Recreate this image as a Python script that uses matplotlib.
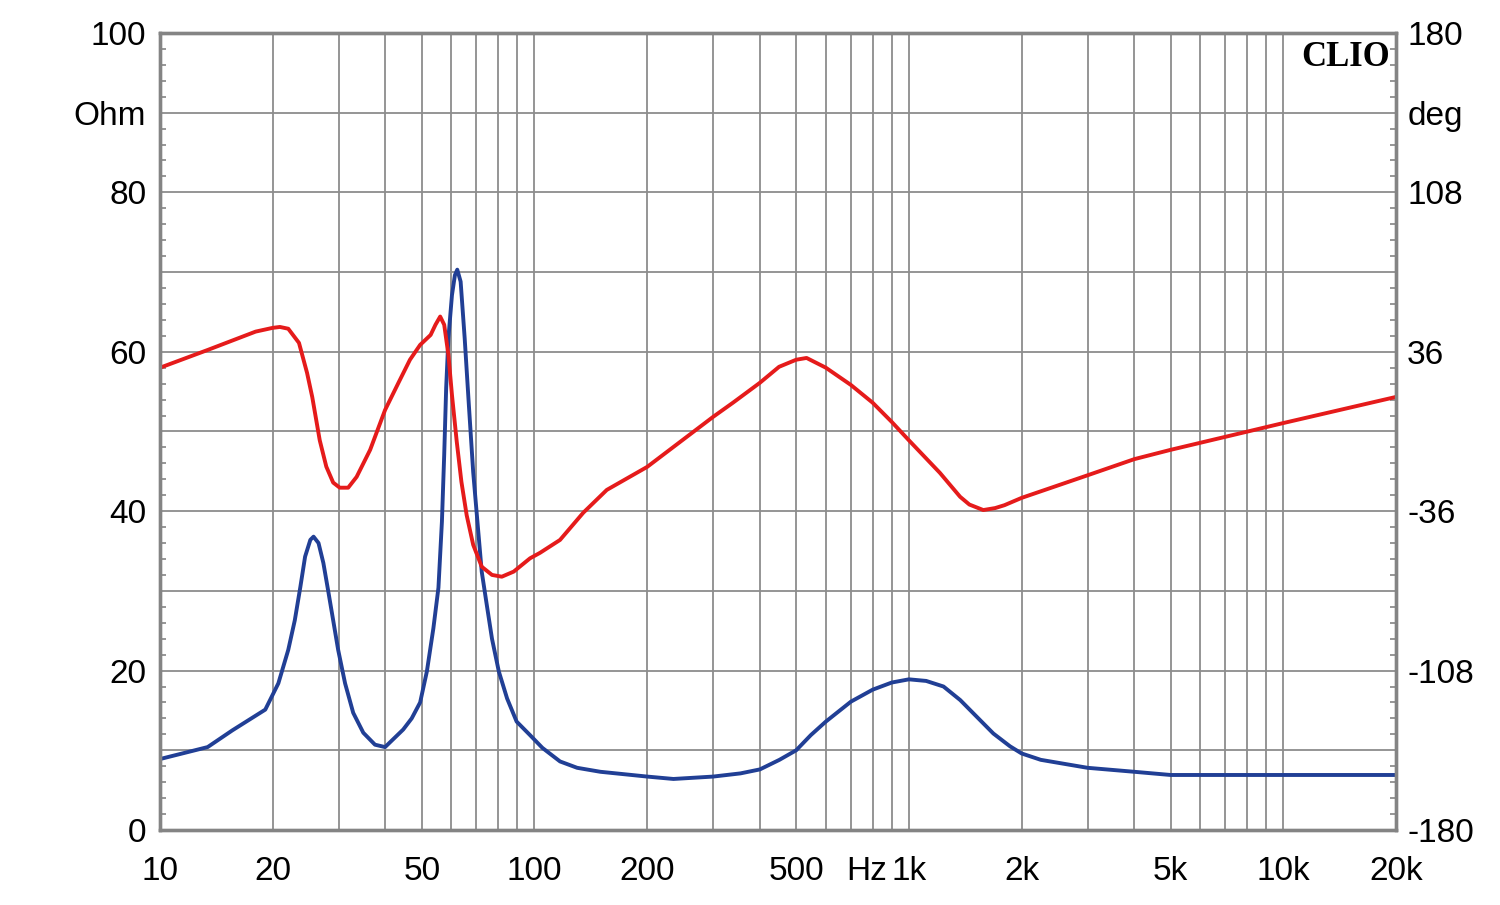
import numpy as np
import matplotlib
matplotlib.use('Agg')
import matplotlib.pyplot as plt
from matplotlib.transforms import blended_transform_factory

plt.rcParams['font.family'] = ['Liberation Sans', 'DejaVu Sans']

# impedance magnitude (Ohm) vs frequency (Hz)
imp_freq = [10, 13.4, 15.6, 19.1, 20.7, 22.0, 22.9, 23.7, 24.4, 25.2, 25.7, 26.5,
            27.3, 28.1, 29.0, 29.9, 31.2, 32.8, 34.9, 37.5, 39.9, 44.6, 47, 49.5,
            51.6, 53.7, 55.4, 56.6, 57.4, 58.1, 58.9, 60.2, 61.3, 62.2, 63.5, 65.1,
            66.8, 68.6, 70.4, 72.3, 74.6, 77.0, 80.3, 84.5, 89.6, 97.3, 105, 117,
            130, 150, 200, 235, 300, 355, 400, 451, 500, 547, 600, 700, 800, 900,
            1000, 1112, 1237, 1371, 1518, 1681, 1862, 2000, 2250, 3000, 4000,
            5000, 10000, 20000]
imp_ohm = [8.9, 10.4, 12.5, 15.1, 18.4, 22.6, 26.3, 30.5, 34.3, 36.4, 36.8, 36.0,
           33.5, 30.1, 26.3, 22.6, 18.4, 14.7, 12.2, 10.7, 10.4, 12.6, 14.0, 16.0,
           19.9, 25.3, 30.4, 38.7, 47.1, 55.5, 61.7, 67.1, 69.6, 70.3, 68.8, 61.7,
           53.3, 44.9, 38.7, 32.4, 28.2, 24.0, 19.9, 16.5, 13.6, 11.9, 10.3, 8.6,
           7.8, 7.3, 6.7, 6.4, 6.7, 7.1, 7.6, 8.8, 10.0, 11.9, 13.6, 16.1, 17.6, 18.5,
           18.9, 18.7, 18.0, 16.3, 14.2, 12.1, 10.5, 9.6, 8.8, 7.8, 7.3,
           6.9, 6.9, 6.9]

# impedance phase (deg) vs frequency (Hz)
ph_freq = [10, 13.4, 18.0, 20, 20.9, 22.0, 23.5, 24.7, 25.5, 26.7, 27.8, 29.0,
           30.2, 31.8, 33.5, 36.4, 39.9, 43.3, 46.5, 49.5, 52.8, 54.4, 56.0, 57.4,
           58.9, 60.2, 62.0, 63.8, 65.9, 68.6, 72.3, 77.0, 81.8, 88.0, 97.3, 103.5,
           117, 135, 156, 200, 300, 339, 400, 450, 500, 533, 600, 700, 800, 900,
           1000, 1210, 1370, 1450, 1580, 1700, 1800, 2000, 3000, 4000, 5000,
           10000, 20000]
ph_deg = [28.8, 36.8, 45.1, 46.8, 47.2, 46.4, 40.0, 26.4, 15.5, -4.0, -15.9, -23.1,
          -25.4, -25.4, -20.5, -8.3, 9.7, 21.9, 32.4, 39.1, 43.6, 48.2, 51.9, 48.2,
          34.6, 16.5, -4.6, -22.7, -37.8, -51.2, -61.1, -64.8, -65.6, -63.3, -57.3, -54.8,
          -49.0, -36.7, -26.4, -16.0, 6.6, 13.0, 22.0, 29.2, 32.4, 33.2, 28.8, 21.0, 13.0,
          4.3, -4.0, -18.7, -29.5, -33.0, -35.5, -34.6, -33.3, -30.0, -19.8, -12.5, -8.3,
          3.8, 15.6]

x_major = [10, 20, 50, 100, 200, 500, 1000, 2000, 5000, 10000, 20000]
x_labels = ['10', '20', '50', '100', '200', '500', '1k', '2k', '5k', '10k', '20k']
x_minor = [30, 40, 60, 70, 80, 90, 300, 400, 600, 700, 800, 900,
           3000, 4000, 6000, 7000, 8000, 9000]

ohm_ticks = list(range(0, 101, 10))
ohm_labels = ['0', '', '20', '', '40', '', '60', '', '80', 'Ohm', '100']
deg_ticks = [-180 + 36 * i for i in range(11)]
deg_labels = ['-180', '', '-108', '', '-36', '', '36', '', '108', 'deg', '180']

grid_c = '#8c8c8c'
spine_c = '#848484'
blue = '#213f95'
red = '#e51b1b'
fs = 24

fig = plt.figure(figsize=(15, 9.05), dpi=100)
ax = fig.add_axes([0.1067, 0.0829, 0.824, 0.8807])
ax.set_xscale('log')
ax.set_xlim(10, 20000)
ax.set_ylim(0, 100)

ax.set_xticks(x_major)
ax.set_xticklabels(x_labels, fontsize=fs)
ax.set_xticks(x_minor, minor=True)
ax.tick_params(axis='x', which='both', length=0, pad=19)
ax.set_yticks(ohm_ticks)
ax.set_yticklabels(ohm_labels, fontsize=fs)
ax.set_yticks(np.arange(0, 101, 2), minor=True)
ax.tick_params(axis='y', which='major', length=0, pad=10)
ax.tick_params(axis='y', which='minor', direction='in', length=4, width=1.2, color=spine_c)
ax.grid(True, which='both', axis='x', color=grid_c, lw=1.3)
ax.grid(True, which='major', axis='y', color=grid_c, lw=1.3)
for s in ax.spines.values():
    s.set_color(spine_c)
    s.set_linewidth(2.4)

ax.plot(imp_freq, imp_ohm, color=blue, lw=2.8, solid_joinstyle='round')

ax2 = ax.twinx()
ax2.set_ylim(-180, 180)
ax2.set_yticks(deg_ticks)
ax2.set_yticklabels(deg_labels, fontsize=fs)
ax2.set_yticks(np.arange(-180, 180.1, 7.2), minor=True)
ax2.tick_params(axis='y', which='major', length=0, pad=8)
ax2.tick_params(axis='y', which='minor', direction='in', length=4, width=1.2, color=spine_c)
for s in ax2.spines.values():
    s.set_color(spine_c)
    s.set_linewidth(2.4)
ax2.plot(ph_freq, ph_deg, color=red, lw=2.8, solid_joinstyle='round')

tr = blended_transform_factory(ax.transData, ax.transAxes)
ax.text(770, -0.0525, 'Hz', transform=tr, ha='center', va='center', fontsize=fs)
ax.text(0.995, 0.99, 'CLIO', transform=ax.transAxes, ha='right', va='top',
        fontsize=25, fontweight='bold', family='Liberation Serif')

plt.savefig('out.png', dpi=100)
